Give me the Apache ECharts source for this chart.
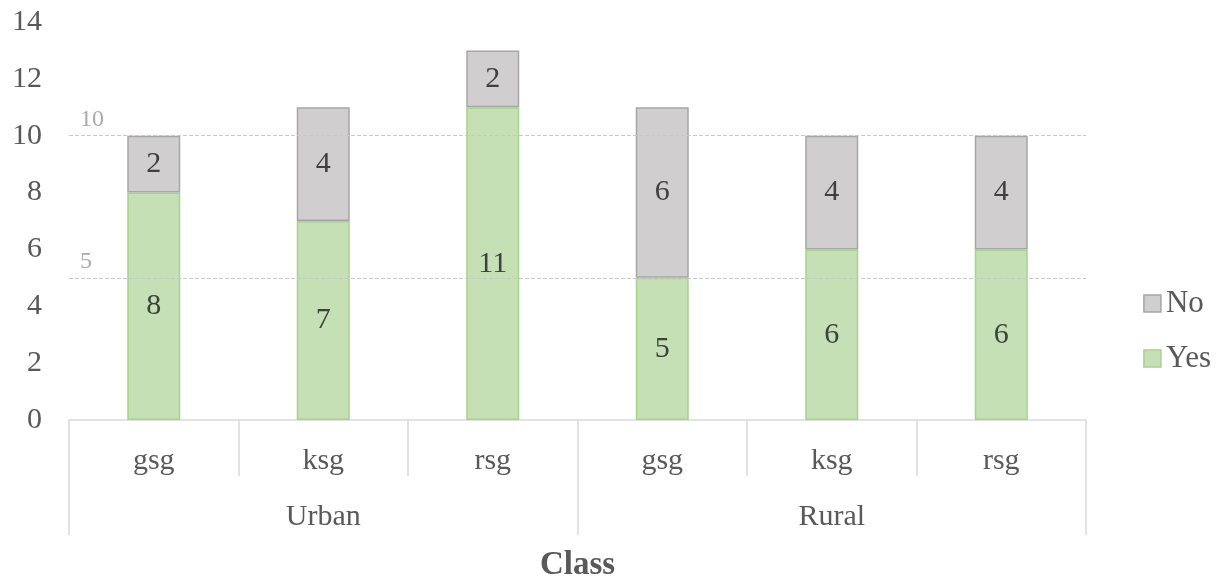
<!DOCTYPE html>
<html>
<head>
<meta charset="utf-8">
<script src="https://cdn.jsdelivr.net/npm/echarts@6/dist/echarts.min.js"></script>
<style>
  html, body { margin: 0; padding: 0; background: #fff; }
  #chart { width: 1225px; height: 580px; }
</style>
</head>
<body>
<div id="chart"></div>
<script>
// Sub-group and group labels for the two-level category axis
const categories = ['gsg', 'ksg', 'rsg', 'gsg', 'ksg', 'rsg'];
const groups = ['Urban', 'Rural'];
// Stacked counts per class
const yesValues = [8, 7, 11, 5, 6, 6];
const noValues = [2, 4, 2, 6, 4, 4];
// Reference levels marked across the plot
const refLevels = [10, 5];
const yTicks = { min: 0, max: 14, interval: 2 };

const FONT = "'Liberation Serif', 'Times New Roman', serif";
const AXIS_GRAY = '#d9d9d9';

const chart = echarts.init(document.getElementById('chart'), null, { renderer: 'canvas' });

const labelStyle = {
  show: true,
  position: 'inside',
  fontFamily: FONT,
  fontSize: 30,
  color: '#404040'
};

chart.setOption({
  animation: false,
  backgroundColor: '#fff',
  grid: { left: 69, right: 139, top: 22, bottom: 160, containLabel: false, outerBoundsMode: 'none' },
  legend: {
    orient: 'vertical',
    right: 9,
    top: 283,
    itemGap: 24,
    itemWidth: 17,
    itemHeight: 17,
    icon: 'rect',
    data: ['No', 'Yes'],
    textStyle: { fontFamily: FONT, fontSize: 31, color: '#595959', padding: [0, 0, 0, 0] },
    itemStyle: { borderWidth: 1.5 }
  },
  xAxis: [
    {
      type: 'category',
      data: categories,
      position: 'bottom',
      axisLine: { show: true, lineStyle: { color: AXIS_GRAY, width: 1.5 } },
      axisTick: { show: true, interval: 0, length: 56, lineStyle: { color: AXIS_GRAY, width: 1.5 } },
      axisLabel: { interval: 0, margin: 26, fontFamily: FONT, fontSize: 30, color: '#595959' },
      splitLine: { show: false }
    },
    {
      type: 'category',
      data: groups,
      position: 'bottom',
      axisLine: { show: false },
      axisTick: { show: true, interval: 0, length: 115, lineStyle: { color: AXIS_GRAY, width: 1.5 } },
      axisLabel: { interval: 0, margin: 82, fontFamily: FONT, fontSize: 30, color: '#595959' },
      splitLine: { show: false },
      name: 'Class',
      nameLocation: 'middle',
      nameGap: 129,
      nameTextStyle: { fontFamily: FONT, fontSize: 33, fontWeight: 'bold', color: '#595959' }
    }
  ],
  yAxis: {
    type: 'value',
    min: yTicks.min,
    max: yTicks.max,
    interval: yTicks.interval,
    axisLine: { show: false },
    axisTick: { show: false },
    splitLine: { show: false },
    axisLabel: { margin: 27, fontFamily: FONT, fontSize: 30, color: '#595959' }
  },
  series: [
    {
      name: 'Yes',
      type: 'bar',
      stack: 'total',
      xAxisIndex: 0,
      barWidth: 53,
      data: yesValues,
      itemStyle: { color: '#c5e0b4', borderColor: '#a9d18e', borderWidth: 1.5 },
      label: labelStyle,
      markLine: {
        silent: true,
        symbol: 'none',
        lineStyle: { color: '#c8c8c8', type: [4, 2], width: 1 },
        label: {
          show: true,
          position: 'insideStartTop',
          distance: [11, 4],
          fontFamily: FONT,
          fontSize: 24,
          color: '#aaaaaa',
          formatter: p => String(p.value)
        },
        data: refLevels.map(v => ({ yAxis: v }))
      }
    },
    {
      name: 'No',
      type: 'bar',
      stack: 'total',
      xAxisIndex: 0,
      barWidth: 53,
      data: noValues,
      itemStyle: { color: '#d0cece', borderColor: '#a6a6a6', borderWidth: 1.5 },
      label: labelStyle
    }
  ]
});
</script>
</body>
</html>
